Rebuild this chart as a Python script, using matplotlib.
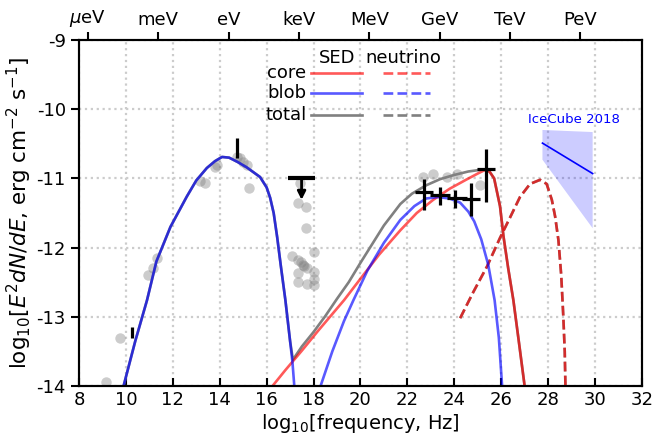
import numpy as np
import matplotlib
matplotlib.use("Agg")
import matplotlib.pyplot as plt

plt.rcParams["axes.unicode_minus"] = False
plt.rcParams["font.size"] = 13

# ── data (log10 nu [Hz], log10 E^2 dN/dE) ──────────────────────────────────
blob_syn_x = [9.9, 10.4, 10.9, 11.3, 11.9, 12.6, 13.0, 13.45, 13.8, 14.1, 14.4,
              14.75, 15.15, 15.72, 16.0, 16.15, 16.3, 16.45, 16.6, 16.8, 17.0,
              17.1, 17.18]
blob_syn_y = [-14.0, -13.35, -12.76, -12.2, -11.7, -11.26, -11.03, -10.85,
              -10.75, -10.69, -10.7, -10.76, -10.84, -10.98, -11.13, -11.28,
              -11.5, -11.85, -12.25, -12.76, -13.35, -13.65, -14.0]

blob_ic_x = [18.3, 18.8, 19.3, 19.7, 20.3, 21.0, 21.7, 22.3, 22.8, 23.3, 23.8,
             24.25, 24.6, 24.85, 25.15, 25.45, 25.72, 25.9, 26.04]
blob_ic_y = [-14.0, -13.5, -13.06, -12.76, -12.33, -11.93, -11.6, -11.4,
             -11.29, -11.27, -11.29, -11.35, -11.48, -11.62, -11.88, -12.25,
             -12.76, -13.3, -14.0]

core_x = [16.25, 16.8, 17.5, 18.2, 19.0, 19.3, 20.0, 20.8, 21.7, 22.4, 23.1,
          23.8, 24.5, 25.0, 25.3, 25.5, 25.7, 25.95, 26.1, 26.3, 26.52, 26.75,
          27.0]
core_y = [-14.0, -13.77, -13.49, -13.2, -12.88, -12.76, -12.45, -12.1, -11.75,
          -11.5, -11.31, -11.15, -11.02, -10.93, -10.88, -10.9, -11.0, -11.4,
          -11.84, -12.3, -12.76, -13.35, -14.0]

total_x = [9.9, 10.4, 10.9, 11.3, 11.9, 12.6, 13.0, 13.45, 13.8, 14.1, 14.4,
           14.75, 15.15, 15.72, 16.0, 16.15, 16.3, 16.45, 16.6, 16.8, 17.0,
           17.12, 17.5, 18.0, 18.5, 19.0, 19.5, 20.0, 20.5, 21.0, 21.7, 22.2,
           22.8, 23.4, 24.0, 24.6, 25.24, 25.5, 25.7, 25.95, 26.1, 26.3, 26.52,
           26.75, 27.0]
total_y = [-14.0, -13.35, -12.76, -12.2, -11.7, -11.26, -11.03, -10.85, -10.75,
           -10.69, -10.7, -10.76, -10.84, -10.98, -11.13, -11.28, -11.5, -11.85,
           -12.25, -12.76, -13.35, -13.62, -13.43, -13.22, -12.99, -12.74,
           -12.5, -12.22, -11.95, -11.68, -11.37, -11.22, -11.1, -11.01, -10.95,
           -10.9, -10.87, -10.9, -11.0, -11.4, -11.84, -12.3, -12.76, -13.35,
           -14.0]

nu_core_x = [24.25, 24.8, 25.4, 25.95, 26.4, 26.8, 27.23, 27.66, 27.94, 28.16,
             28.3, 28.44, 28.56, 28.65, 28.71, 28.74]
nu_core_y = [-13.02, -12.65, -12.27, -11.86, -11.55, -11.27, -11.08, -11.02,
             -11.08, -11.31, -11.55, -11.89, -12.4, -13.0, -13.5, -14.0]

# archival data points (grey)
arch_x = [9.15, 9.75, 10.96, 11.14, 11.31, 13.16, 13.37, 13.8, 13.9, 14.72,
          14.87, 15.01, 15.15, 15.26, 17.42, 17.35, 17.68, 17.68, 18.02, 17.1,
          17.35, 17.45, 17.54, 17.61, 17.71, 17.35, 18.02, 18.02, 17.35, 17.71,
          18.02, 22.65, 23.11, 23.68, 24.11, 25.1]
arch_y = [-13.94, -13.3, -12.4, -12.29, -12.15, -11.04, -11.06, -10.83, -10.81,
          -10.69, -10.71, -10.76, -10.81, -11.14, -11.07, -11.36, -11.42, -11.72,
          -12.06, -12.12, -12.18, -12.21, -12.25, -12.27, -12.3, -12.37, -12.35,
          -12.45, -12.49, -12.52, -12.54, -10.98, -10.93, -10.98, -10.93, -11.1]

# flare-state measurements (black crosses)
obs_x = [22.71, 23.39, 24.03, 24.72, 25.36]
obs_y = [-11.19, -11.24, -11.29, -11.30, -10.87]
obs_xlo = [0.38, 0.42, 0.35, 0.40, 0.37]
obs_xhi = [0.40, 0.43, 0.50, 0.38, 0.38]
obs_ylo = [0.26, 0.14, 0.14, 0.25, 0.47]
obs_yhi = [0.18, 0.12, 0.12, 0.23, 0.29]

bar_x, bar_y, bar_ylo, bar_yhi = [10.25, 14.72], [-13.23, -10.56], [0.08, 0.14], [0.08, 0.14]

ul_x, ul_y, ul_xerr, ul_len = 17.49, -10.99, 0.56, 0.32

# IceCube 2018 bow-tie
ic_poly_x = [27.76, 29.9, 29.9, 27.76]
ic_poly_y = [-10.30, -10.33, -11.72, -10.73]
ic_fit_x = [27.76, 29.9]
ic_fit_y = [-10.49, -10.93]

energy_labels = [r"$\mu$eV", "meV", "eV", "keV", "MeV", "GeV", "TeV", "PeV"]
energy_pos = [8.38, 11.38, 14.38, 17.38, 20.38, 23.38, 26.38, 29.38]

RED, BLUE, GREY = "red", "blue", "gray"
A = 0.65
LW = 1.9

fig = plt.figure(figsize=(6.55, 4.46), dpi=100)
ax = fig.add_axes([0.1206, 0.1345, 0.98 - 0.1206, 0.9103 - 0.1345])

ax.plot(arch_x, arch_y, "o", ms=7.5, color="gray", alpha=0.4, mec="none", zorder=2)

ax.plot(total_x, total_y, color=GREY, lw=LW, zorder=3)
ax.plot(nu_core_x, nu_core_y, color=GREY, lw=LW, ls="--", zorder=3)
ax.plot(core_x, core_y, color=RED, alpha=A, lw=LW, zorder=4)
ax.plot(nu_core_x, nu_core_y, color=RED, alpha=A, lw=LW, ls="--", zorder=4)
ax.plot(blob_syn_x, blob_syn_y, color=BLUE, alpha=A, lw=LW, zorder=5)
ax.plot(blob_ic_x, blob_ic_y, color=BLUE, alpha=A, lw=LW, zorder=5)

ax.errorbar(obs_x, obs_y, xerr=[obs_xlo, obs_xhi], yerr=[obs_ylo, obs_yhi],
            fmt="none", ecolor="k", elinewidth=2.3, capsize=0, zorder=6)
ax.errorbar(bar_x, bar_y, yerr=[bar_ylo, bar_yhi], fmt="none", ecolor="k",
            elinewidth=2.3, capsize=0, zorder=6)
ax.errorbar([ul_x], [ul_y], xerr=ul_xerr, fmt="none", ecolor="k",
            elinewidth=3, capsize=0, zorder=6)
ax.annotate("", xy=(ul_x, ul_y - ul_len), xytext=(ul_x, ul_y),
            arrowprops=dict(arrowstyle="-|>", color="k", lw=2,
                            mutation_scale=12, shrinkA=0, shrinkB=0), zorder=6)

ax.fill(ic_poly_x, ic_poly_y, color="blue", alpha=0.2, lw=0, zorder=2)
ax.plot(ic_fit_x, ic_fit_y, color="blue", lw=1.2, zorder=3)
ax.text(29.1, -10.15, "IceCube 2018", color="blue", fontsize=9.5,
        ha="center", va="center")

# custom two-column legend
tr = ax.transAxes
ax.text(0.459, 0.947, "SED", transform=tr, ha="center", va="center")
ax.text(0.577, 0.947, "neutrino", transform=tr, ha="center", va="center")
for lab, col, alpha, yy in [("core", RED, A, 0.904), ("blob", BLUE, A, 0.846),
                            ("total", GREY, 1.0, 0.783)]:
    ax.text(0.404, yy, lab, transform=tr, ha="right", va="center")
    ax.plot([0.413, 0.502], [yy, yy], transform=tr, color=col, alpha=alpha, lw=LW)
    ax.plot([0.540, 0.623], [yy, yy], transform=tr, color=col, alpha=alpha,
            lw=LW, ls="--")

ax.set_xlim(8, 32)
ax.set_ylim(-14, -9)
ax.set_xticks(np.arange(8, 33, 2))
ax.set_yticks(np.arange(-14, -8, 1))
ax.grid(True, ls=":", color="#cccccc", lw=1.6)
ax.set_axisbelow(True)
for s in ax.spines.values():
    s.set_linewidth(1.5)
ax.tick_params(axis="x", direction="in", length=6, width=1.5, top=False)
ax.tick_params(axis="y", direction="out", length=6, width=1.5, right=False)
ax.set_xlabel("log$_{10}$[frequency, Hz]", fontsize=14, labelpad=2)
ax.set_ylabel("log$_{10}$[$E^2dN/dE$, erg cm$^{-2}$ s$^{-1}$]", fontsize=15.5,
              labelpad=2)

ax2 = ax.twiny()
ax2.set_xlim(8, 32)
ax2.set_xticks(energy_pos)
ax2.set_xticklabels(energy_labels)
ax2.tick_params(axis="x", direction="out", length=6, width=1.5, pad=2)
for s in ax2.spines.values():
    s.set_linewidth(1.5)

fig.savefig("out.png", dpi=100)
